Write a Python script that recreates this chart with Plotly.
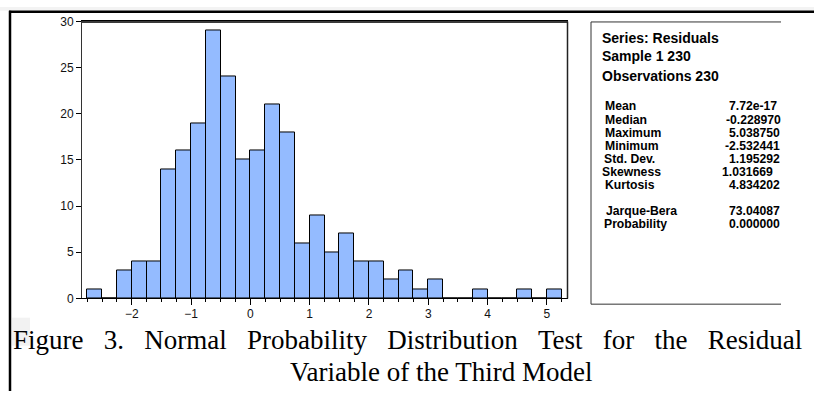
import plotly.graph_objects as go

# ---- data ----
bin_left = [-2.75, -2.5, -2.25, -2.0, -1.75, -1.5, -1.25, -1.0, -0.75, -0.5, -0.25,
            0.0, 0.25, 0.5, 0.75, 1.0, 1.25, 1.5, 1.75, 2.0, 2.25, 2.5, 2.75, 3.0,
            3.25, 3.5, 3.75, 4.0, 4.25, 4.5, 4.75, 5.0]
counts = [1, 0, 3, 4, 4, 14, 16, 19, 29, 24, 15,
          16, 21, 18, 6, 9, 5, 7, 4, 4, 2, 3, 1, 2,
          0, 0, 1, 0, 0, 1, 0, 1]
bin_width = 0.25
x_ticks = [-2, -1, 0, 1, 2, 3, 4, 5]
y_ticks = [0, 5, 10, 15, 20, 25, 30]

header_lines = ["Series: Residuals", "Sample 1 230", "Observations 230"]
stat_labels = ["Mean", "Median", "Maximum", "Minimum", "Std. Dev.",
               "Skewness", "Kurtosis", "Jarque-Bera", "Probability"]
stat_values = ["7.72e-17", "-0.228970", "5.038750", "-2.532441", "1.195292",
               "1.031669", "4.834202", "73.04087", "0.000000"]
caption_1 = "Figure 3. Normal Probability Distribution Test for the Residual"
caption_2 = "Variable of the Third Model"

W, H = 814, 398
def px(x):
    return x / W
def py(y):
    return 1 - y / H

centers = [b + bin_width / 2 for b in bin_left]

fig = go.Figure()
fig.add_trace(go.Bar(
    x=centers, y=counts, width=bin_width,
    marker=dict(color="#94BBFF", line=dict(color="black", width=1)),
    hoverinfo="x+y", showlegend=False,
))

tick_font = dict(family="Liberation Sans, Arial, sans-serif", size=12, color="#111")
fig.update_layout(
    width=W, height=H,
    margin=dict(l=0, r=0, t=0, b=0),
    paper_bgcolor="white", plot_bgcolor="white",
    bargap=0,
    xaxis=dict(
        domain=[px(82), px(567)], range=[-2.84, 5.34],
        tickvals=x_ticks, ticks="outside", ticklen=6, tickcolor="black",
        minor=dict(dtick=bin_width, tick0=-2.75, ticks="outside", ticklen=3, tickcolor="black"),
        showline=True, linecolor="black", linewidth=1, mirror=True,
        showgrid=False, zeroline=False, tickfont=tick_font, ticklabelstandoff=-2,
    ),
    yaxis=dict(
        domain=[py(302), py(15)], range=[0, 30],
        tickvals=y_ticks, ticks="outside", ticklen=5, tickcolor="black",
        showline=True, linecolor="#333", linewidth=1, mirror=True,
        showgrid=False, zeroline=False, tickfont=tick_font,
    ),
)

shapes = []
# top gray strip and frame lines
shapes.append(dict(type="rect", xref="paper", yref="paper", x0=0, x1=1, y0=py(4), y1=1,
                   fillcolor="#f3f3f3", line=dict(width=0), layer="below"))
shapes.append(dict(type="line", xref="paper", yref="paper", x0=px(9), x1=1, y0=py(5), y1=py(5),
                   line=dict(color="black", width=2.5)))
shapes.append(dict(type="line", xref="paper", yref="paper", x0=px(10), x1=px(10), y0=0, y1=py(4),
                   line=dict(color="black", width=2.5)))
# thicker top border of plot box
shapes.append(dict(type="line", xref="paper", yref="paper", x0=px(82), x1=px(567.5), y0=py(15.5), y1=py(15.5),
                   line=dict(color="#3a3a3a", width=2)))
shapes.append(dict(type="line", xref="paper", yref="paper", x0=px(567.5), x1=px(567.5), y0=py(15), y1=py(302),
                   line=dict(color="#222", width=1.5)))
# stats box (open on right)
box_l, box_r, box_t, box_b = 591, 781, 15.5, 308
for (x0, y0, x1, y1) in [(box_l, box_t, box_r, box_t), (box_l, box_t, box_l, box_b), (box_l, box_b, box_r, box_b)]:
    shapes.append(dict(type="line", xref="paper", yref="paper", x0=px(x0), x1=px(x1), y0=py(y0), y1=py(y1),
                       line=dict(color="#333", width=1)))
# light highlight behind caption start
shapes.append(dict(type="rect", xref="paper", yref="paper", x0=px(12), x1=px(30), y0=py(351), y1=py(322),
                   fillcolor="#f2f2f2", line=dict(width=0), layer="below"))
fig.update_layout(shapes=shapes)

ann = []
head_font = dict(family="Liberation Sans, Arial, sans-serif", size=14, color="black")
stat_font = dict(family="Liberation Sans, Arial, sans-serif", size=12.2, color="black")
header_y = [32, 51, 71]
for t, y in zip(header_lines, header_y):
    ann.append(dict(text="<b>%s</b>" % t, x=px(600), y=py(y), xref="paper", yref="paper",
                    xanchor="left", yanchor="middle", showarrow=False, font=head_font))
label_y = [103, 116.7, 130.3, 144, 157.7, 171.3, 185, 211, 225]
label_x = [604, 604, 604, 604, 603, 600.5, 604, 605, 603]
value_x = [778, 781.5, 780.5, 780.5, 780.5, 773.5, 780.5, 780.5, 780.5]
for lab, val, y, lx, vx in zip(stat_labels, stat_values, label_y, label_x, value_x):
    ann.append(dict(text="<b>%s</b>" % lab, x=px(lx), y=py(y), xref="paper", yref="paper",
                    xanchor="left", yanchor="middle", showarrow=False, font=stat_font, borderpad=0))
    ann.append(dict(text="<b>%s</b>" % val, x=px(vx), y=py(y), xref="paper", yref="paper",
                    xanchor="right", yanchor="middle", showarrow=False, font=stat_font, borderpad=0))

# caption line 1 is justified in the source (wider word spacing)
gap = "&nbsp;" * 3
cap1_text = gap.join(caption_1.split(" "))
cap_font = dict(family="Liberation Serif, Times New Roman, serif", size=27, color="black")
ann.append(dict(text=cap1_text, x=px(11), y=py(345), xref="paper", yref="paper",
                xanchor="left", yanchor="middle", showarrow=False, font=cap_font))
ann.append(dict(text=caption_2, x=px(441), y=py(378), xref="paper", yref="paper",
                xanchor="center", yanchor="middle", showarrow=False, font=cap_font))
fig.update_layout(annotations=ann)

fig.write_html("out.html")
